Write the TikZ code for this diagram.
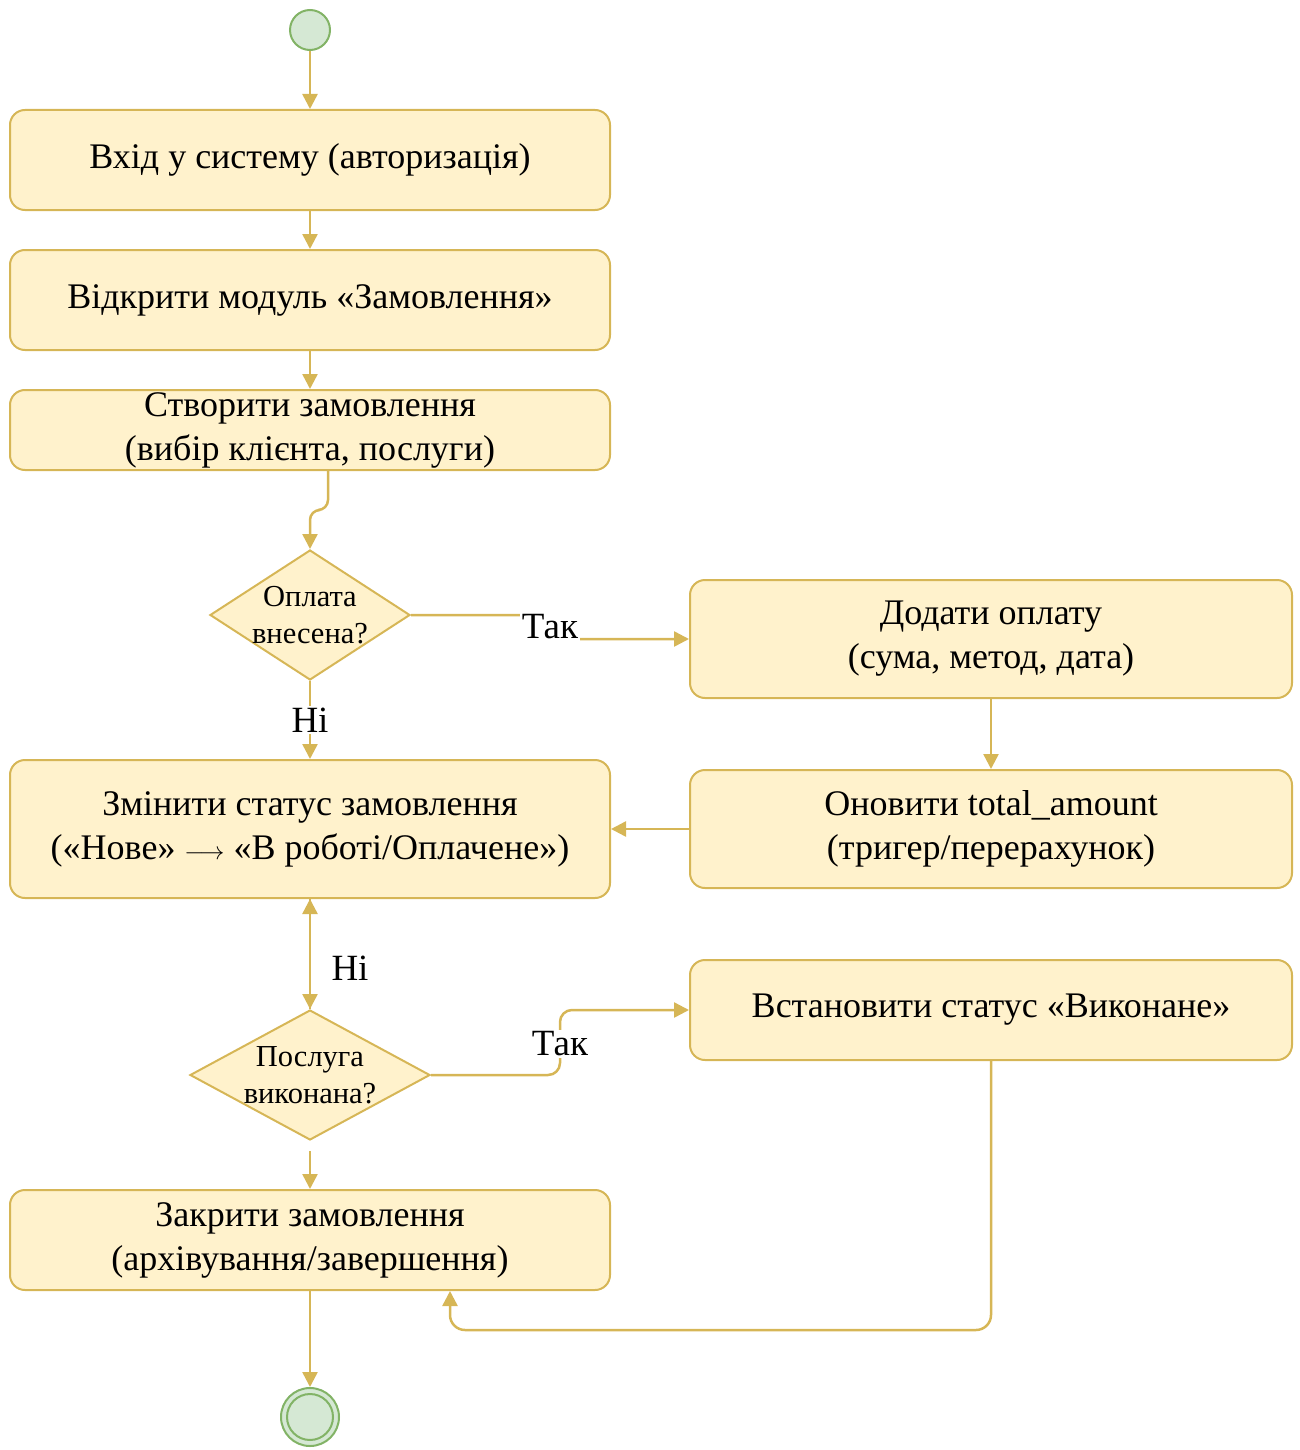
\documentclass[tikz,border=0pt]{standalone}
\usepackage{fontspec}
\setmainfont{Liberation Serif}
\usetikzlibrary{arrows.meta,shapes.geometric}
\definecolor{boxfill}{HTML}{FFF2CC}
\definecolor{boxline}{HTML}{D6B656}
\definecolor{arrline}{HTML}{D6B656}
\definecolor{startfill}{HTML}{D5E8D4}
\definecolor{startline}{HTML}{82B366}
\tikzset{
  actbox/.style={draw=boxline, fill=boxfill, line width=2pt, rounded corners=15pt,
    align=center, inner sep=0pt, font=\fontsize{36}{44}\selectfont},
  decis/.style={draw=boxline, fill=boxfill, line width=2pt, shape=diamond,
    inner sep=0pt, minimum width=200pt, minimum height=130pt},
  dtext/.style={align=center, font=\fontsize{30.5}{37}\selectfont},
  conn/.style={draw=arrline, line width=2.5pt, -{Triangle[length=15pt,width=15pt]}},
  lbl/.style={fill=white, inner sep=2pt, font=\fontsize{37}{40}\selectfont},
}
\begin{document}
\begin{tikzpicture}[x=1pt,y=-1pt]
\useasboundingbox (0,0) rectangle (1300,1450);

\node[circle, draw=startline, fill=startfill, line width=2pt, minimum size=40pt, inner sep=0pt] (start) at (310,30) {};

\node[actbox, minimum width=600pt, minimum height=100pt] (b1) at (310,160) {Вхід у систему (авторизація)};
\node[actbox, minimum width=600pt, minimum height=100pt] (b2) at (310,300) {Відкрити модуль «Замовлення»};
\node[actbox, minimum width=600pt, minimum height=80pt] (b3) at (310,430) {Створити замовлення\\(вибір клієнта, послуги)};

\node[decis, label={[dtext]center:Оплата\\внесена?}] (d1) at (310,615) {};

\node[actbox, minimum width=602pt, minimum height=118pt] (add) at (991,639) {Додати оплату\\(сума, метод, дата)};
\node[actbox, minimum width=600pt, minimum height=138pt] (zm) at (310,829) {Змінити статус замовлення\\(«Нове» $\longrightarrow$ «В роботі/Оплачене»)};
\node[actbox, minimum width=602pt, minimum height=118pt] (upd) at (991,829) {Оновити total\_amount\\(тригер/перерахунок)};

\node[decis, minimum width=240pt, label={[dtext]center:Послуга\\виконана?}] (d2) at (310,1075) {};

\node[actbox, minimum width=602pt, minimum height=100pt] (set) at (991,1010) {Встановити статус «Виконане»};
\node[actbox, minimum width=600pt, minimum height=100pt] (cl) at (310,1240) {Закрити замовлення\\(архівування/завершення)};

\node[circle, draw=startline, fill=startfill, line width=2pt, minimum size=58pt, inner sep=0pt] (end) at (310,1417) {};
\draw[startline, line width=2pt] (end.center) circle[radius=23pt];

% connectors
\draw[conn] (start) -- (b1);
\draw[conn] (b1) -- (b2);
\draw[conn] (b2) -- (b3);
\draw[conn, rounded corners=10pt] ([xshift=18pt]b3.south) -- (328,510) -- (310,510) -- (d1.north);

\draw[conn, rounded corners=8pt] (d1.east) -- (549,615) -- (549,639) -- (add.west);
\node[lbl] (t1) at (550,627) {Так};

\draw[conn] (d1.south) -- (zm.north) node[lbl, midway] (n1) {Ні};

\draw[conn] (add.south) -- (upd.north);
\draw[conn] (upd.west) -- (zm.east);

\draw[conn] (d2.north) -- (zm.south);
\draw[conn] (zm.south) -- (d2.north);
\node[font=\fontsize{37}{40}\selectfont] (n2) at (350,968) {Ні};

\draw[conn, rounded corners=12pt] (d2.east) -- (560,1075) -- (560,1010) -- (set.west);
\node[lbl] (t2) at (560,1044) {Так};

\draw[conn, rounded corners=15pt] (set.south) -- (991,1330) -- (450,1330) -- ([xshift=140pt]cl.south);
\draw[conn, shorten <=10pt] (d2.south) -- (cl.north);
\draw[conn] (cl.south) -- (end.north);
\end{tikzpicture}
\end{document}
